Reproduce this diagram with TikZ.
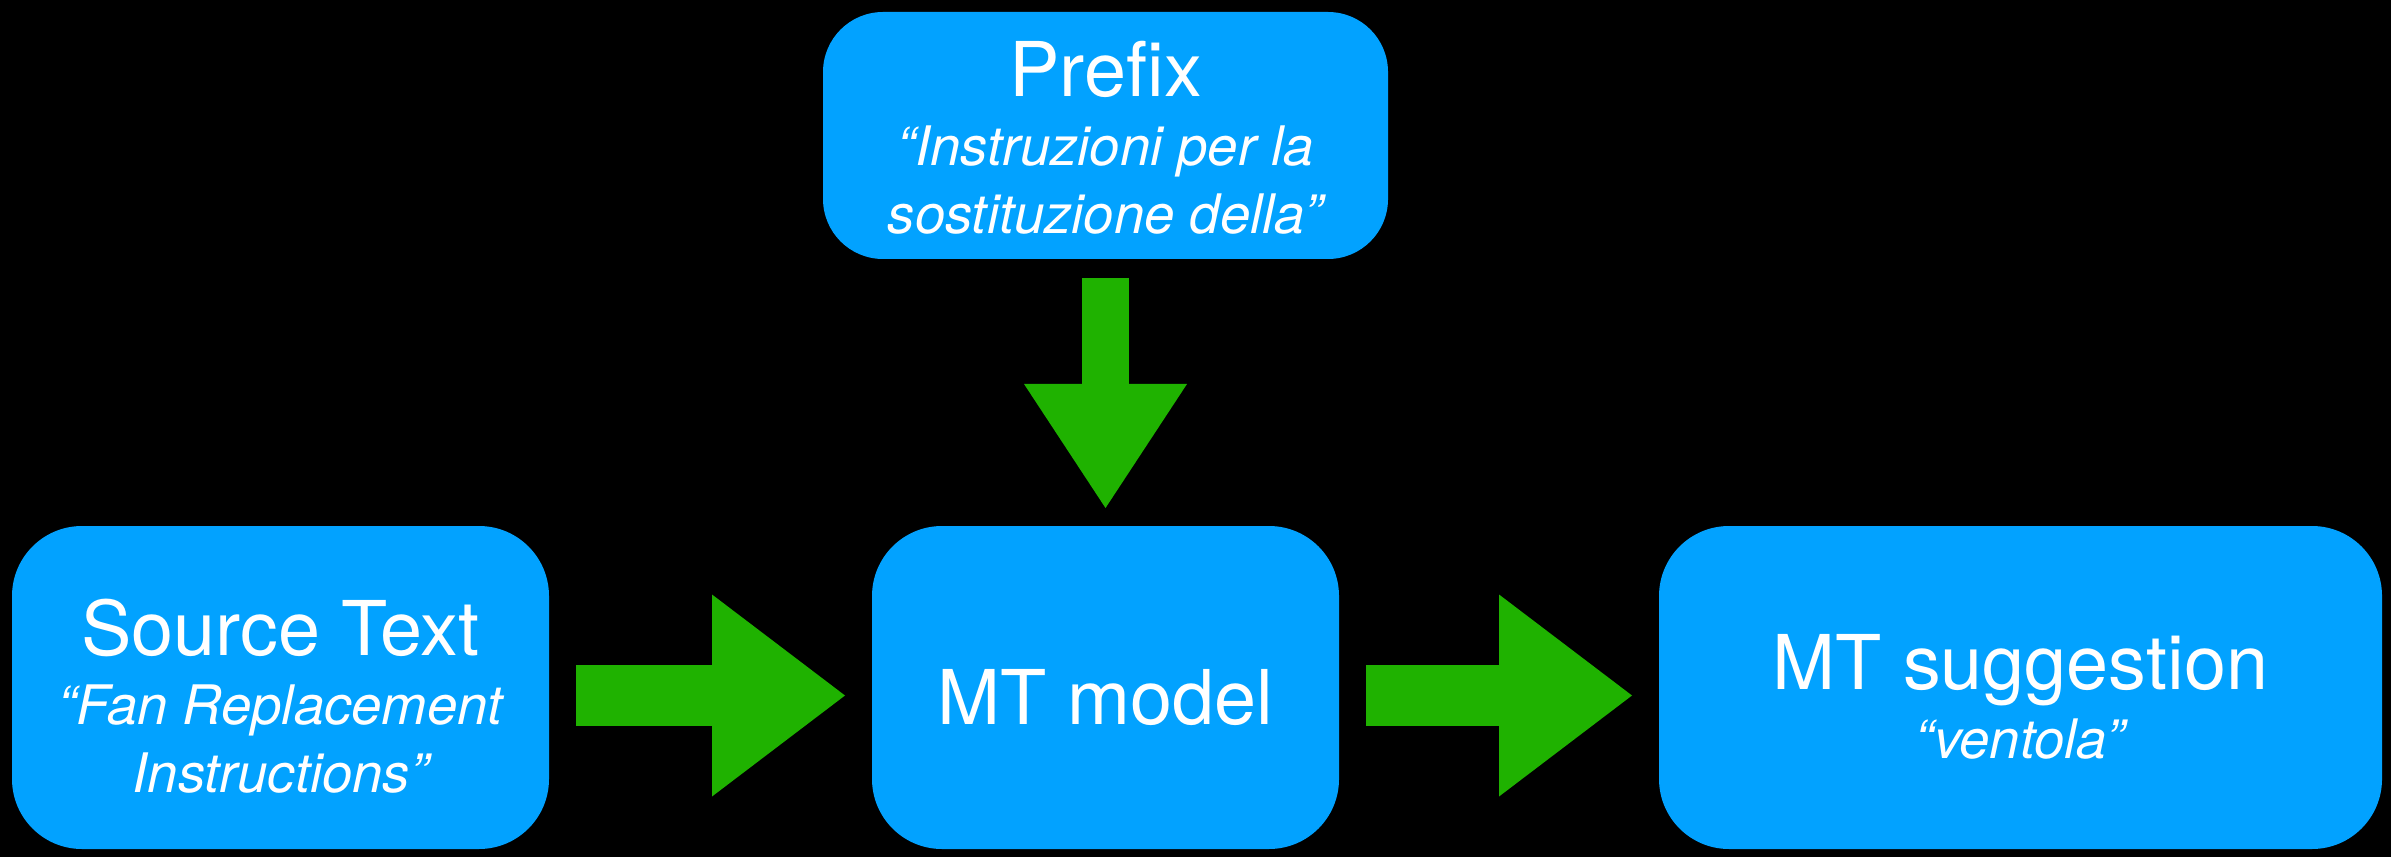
\documentclass[tikz,border=0pt]{standalone}
\usepackage{fontspec}
\setmainfont{TeX Gyre Heros}
\usetikzlibrary{positioning,arrows.meta}

\definecolor{boxblue}{RGB}{2,162,255}
\definecolor{flowgreen}{RGB}{31,178,0}
\newcommand{\titlefont}{\fontsize{21.5}{24}\selectfont\upshape}
\newcommand{\quotefont}{\fontsize{15.5}{19.5}\selectfont\itshape}
\newcommand{\drop}[1]{\rule{0pt}{#1}}

\begin{document}
\begin{tikzpicture}[
    box/.style={fill=boxblue, rounded corners=0.7cm, text=white, align=center,
      inner sep=0pt, outer sep=0pt, minimum height=3.23cm, font=\quotefont},
    flow/.style={flowgreen, line width=0.61cm, line cap=butt,
      -{Triangle[length=1.33cm, width=2.02cm, line width=0pt 0 0]},
      shorten <=0.27cm, shorten >=0.27cm},
    feed/.style={flowgreen, line width=0.47cm, line cap=butt,
      -{Triangle[length=1.24cm, width=1.63cm, line width=0pt 0 0]},
      shorten <=0.19cm, shorten >=0.18cm}
  ]
  \fill[black] (0,0) rectangle (23.91,8.57);
  \useasboundingbox (0,0) rectangle (23.91,8.57);

  \node[box, minimum width=4.67cm] (model) at (11.055,1.695)
    {{\titlefont\drop{0.75cm}MT model}};
  \node[box, minimum width=5.37cm, left=3.23cm of model] (source)
    {{\titlefont\drop{0.74cm}Source Text}\\“Fan Replacement\\Instructions”};
  \node[box, minimum width=7.23cm, right=3.2cm of model] (suggestion)
    {{\titlefont\drop{0.74cm}MT suggestion}\\“ventola”};
  \node[box, minimum width=5.65cm, minimum height=2.47cm, rounded corners=0.6cm,
    above=2.67cm of model] (prefix)
    {{\titlefont\drop{0.6cm}Prefix}\\“Instruzioni per la\\sostituzione della”};

  \draw[feed] (prefix) -- (model);
  \draw[flow] ([yshift=-0.08cm]source.east) -- ([yshift=-0.08cm]model.west);
  \draw[flow] ([yshift=-0.08cm]model.east) -- ([yshift=-0.08cm]suggestion.west);
\end{tikzpicture}
\end{document}
